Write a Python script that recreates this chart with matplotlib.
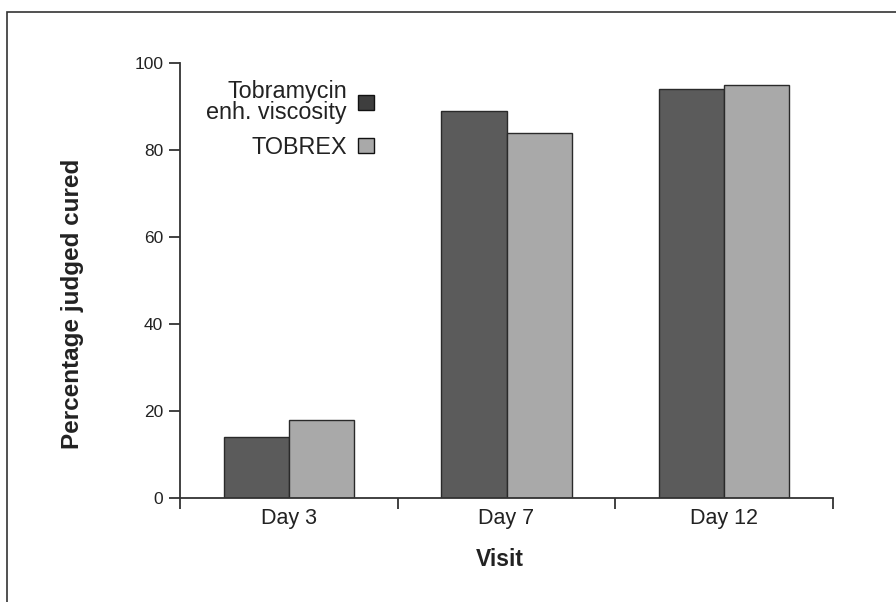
import numpy as np
import matplotlib
matplotlib.use("Agg")
import matplotlib.pyplot as plt
from matplotlib.patches import Rectangle, Patch

plt.rcParams['font.family'] = ['Liberation Sans', 'DejaVu Sans']

# data
visits = ["Day 3", "Day 7", "Day 12"]
tobra_ev = [14, 89, 94]
tobrex = [18, 84, 95]
series_names = ["Tobramycin\nenh. viscosity", "TOBREX"]

dark = "#5b5b5b"
light = "#a9a9a9"
edge = "#2a2a2a"

fig = plt.figure(figsize=(8.96, 6.02), dpi=100)
ax = fig.add_axes([180/896, 1 - 498/602, (833 - 180)/896, (498 - 63)/602])

x = np.arange(len(visits)) + 0.5
w = 0.3
ax.bar(x - w/2, tobra_ev, w, color=dark, edgecolor=edge, linewidth=1.0)
ax.bar(x + w/2, tobrex, w, color=light, edgecolor=edge, linewidth=1.0)

ax.set_xlim(0, 3)
ax.set_ylim(0, 100)
ax.set_yticks([0, 20, 40, 60, 80, 100])
ax.set_xticks([0, 1, 2, 3])
ax.set_xticklabels([])
ax.set_xticks(x, minor=True)
ax.set_xticklabels(visits, minor=True, fontsize=15.5, color="#222")
ax.tick_params(axis='x', which='minor', length=0, pad=7)
ax.tick_params(axis='x', which='major', length=8, width=1.3, color="#333")
ax.tick_params(axis='y', length=8, width=1.3, color="#333", labelsize=12.5,
               labelcolor="#222", pad=4)

for s in ["top", "right"]:
    ax.spines[s].set_visible(False)
for s in ["left", "bottom"]:
    ax.spines[s].set_color("#333")
    ax.spines[s].set_linewidth(1.3)

ax.set_xlabel("Visit", fontsize=16.5, fontweight="bold", color="#222")
ax.xaxis.set_label_coords((500 - 180)/653, -(560 - 498)/435, transform=ax.transAxes)
ax.xaxis.label.set_va("center")
ax.set_ylabel("Percentage judged cured", fontsize=17.5, fontweight="bold",
              color="#222")
ax.yaxis.set_label_coords(-(180 - 72)/653, (498 - 304)/435, transform=ax.transAxes)
ax.yaxis.label.set_va("center")

handles = [Patch(facecolor="#3e3e3e", edgecolor="#111", linewidth=1.0),
           Patch(facecolor=light, edgecolor="#111", linewidth=1.0)]
leg = fig.legend(handles, series_names, loc="upper right",
                 bbox_to_anchor=(386/896, 1 - 68/602), frameon=False,
                 markerfirst=False, fontsize=16.8, borderpad=0,
                 handlelength=0.72, handleheight=0.65, handletextpad=0.45,
                 labelspacing=0.5)
for t in leg.get_texts():
    t.set_multialignment("right")
    t.set_linespacing(0.9)
    t.set_color("#222")

# outer frame (only left and top edges show)
fig.patches.append(Rectangle((7/896, -0.5), 2, 0.5 + 1 - 12/602,
                             transform=fig.transFigure, fill=False,
                             edgecolor="#333", linewidth=1.2))

fig.savefig("out.png", dpi=100)
